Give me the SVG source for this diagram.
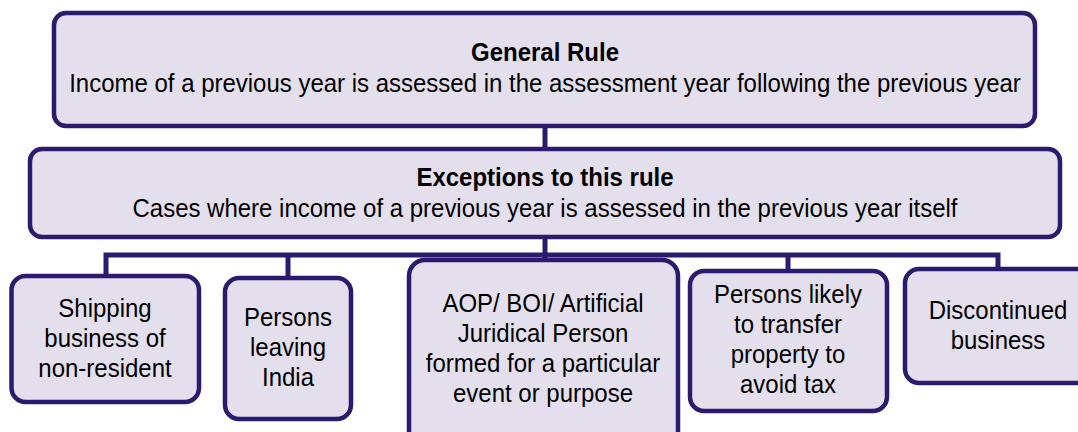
<svg xmlns="http://www.w3.org/2000/svg" width="1078" height="432" viewBox="0 0 1078 432">
  <style>
    .box { fill: #E4DFEC; stroke: #2B1B6E; stroke-width: 4.5; }
    .conn { fill: none; stroke: #2B1B6E; stroke-width: 5; stroke-linejoin: miter; }
    text { font-family: "Liberation Sans", Arial, sans-serif; font-size: 26px; fill: #000; text-anchor: middle; }
    .b { font-weight: bold; }
  </style>
  <rect width="1078" height="432" fill="#FFFFFF"/>
  <g id="connectors">
    <path class="conn" d="M545,126 V149"/>
    <path class="conn" d="M545,237 V262"/>
    <path class="conn" d="M106,276 V255 H998 V269"/>
    <path class="conn" d="M288,255 V278"/>
    <path class="conn" d="M788,255 V271"/>
  </g>
  <g id="general-rule">
    <rect class="box" x="54" y="13" width="981" height="113" rx="12"/>
    <g transform="translate(545,0) scale(0.923,1)">
      <text class="b" x="0" y="61">General Rule</text>
      <text x="0" y="92">Income of a previous year is assessed in the assessment year following the previous year</text>
    </g>
  </g>
  <g id="exceptions">
    <rect class="box" x="30" y="149" width="1030" height="88" rx="12"/>
    <g transform="translate(545,0) scale(0.923,1)">
      <text class="b" x="0" y="186">Exceptions to this rule</text>
      <text x="0" y="217">Cases where income of a previous year is assessed in the previous year itself</text>
    </g>
  </g>
  <g id="shipping">
    <rect class="box" x="11.5" y="276" width="187.5" height="126" rx="14"/>
    <g transform="translate(105,0) scale(0.923,1)">
      <text x="0" y="317">Shipping</text>
      <text x="0" y="347">business of</text>
      <text x="0" y="377">non-resident</text>
    </g>
  </g>
  <g id="persons-leaving">
    <rect class="box" x="225" y="278" width="126" height="141" rx="14"/>
    <g transform="translate(288,0) scale(0.923,1)">
      <text x="0" y="326">Persons</text>
      <text x="0" y="356">leaving</text>
      <text x="0" y="386">India</text>
    </g>
  </g>
  <g id="aop">
    <rect class="box" x="409" y="260" width="269" height="200" rx="16"/>
    <g transform="translate(543,0) scale(0.923,1)">
      <text x="0" y="312">AOP/ BOI/ Artificial</text>
      <text x="0" y="342">Juridical Person</text>
      <text x="0" y="372">formed for a particular</text>
      <text x="0" y="402">event or purpose</text>
    </g>
  </g>
  <g id="persons-likely">
    <rect class="box" x="690" y="271" width="197" height="140" rx="14"/>
    <g transform="translate(788,0) scale(0.923,1)">
      <text x="0" y="303">Persons likely</text>
      <text x="0" y="333">to transfer</text>
      <text x="0" y="363">property to</text>
      <text x="0" y="393">avoid tax</text>
    </g>
  </g>
  <g id="discontinued">
    <rect class="box" x="905" y="269" width="190" height="114" rx="14"/>
    <g transform="translate(998,0) scale(0.923,1)">
      <text x="0" y="319">Discontinued</text>
      <text x="0" y="349">business</text>
    </g>
  </g>
</svg>
